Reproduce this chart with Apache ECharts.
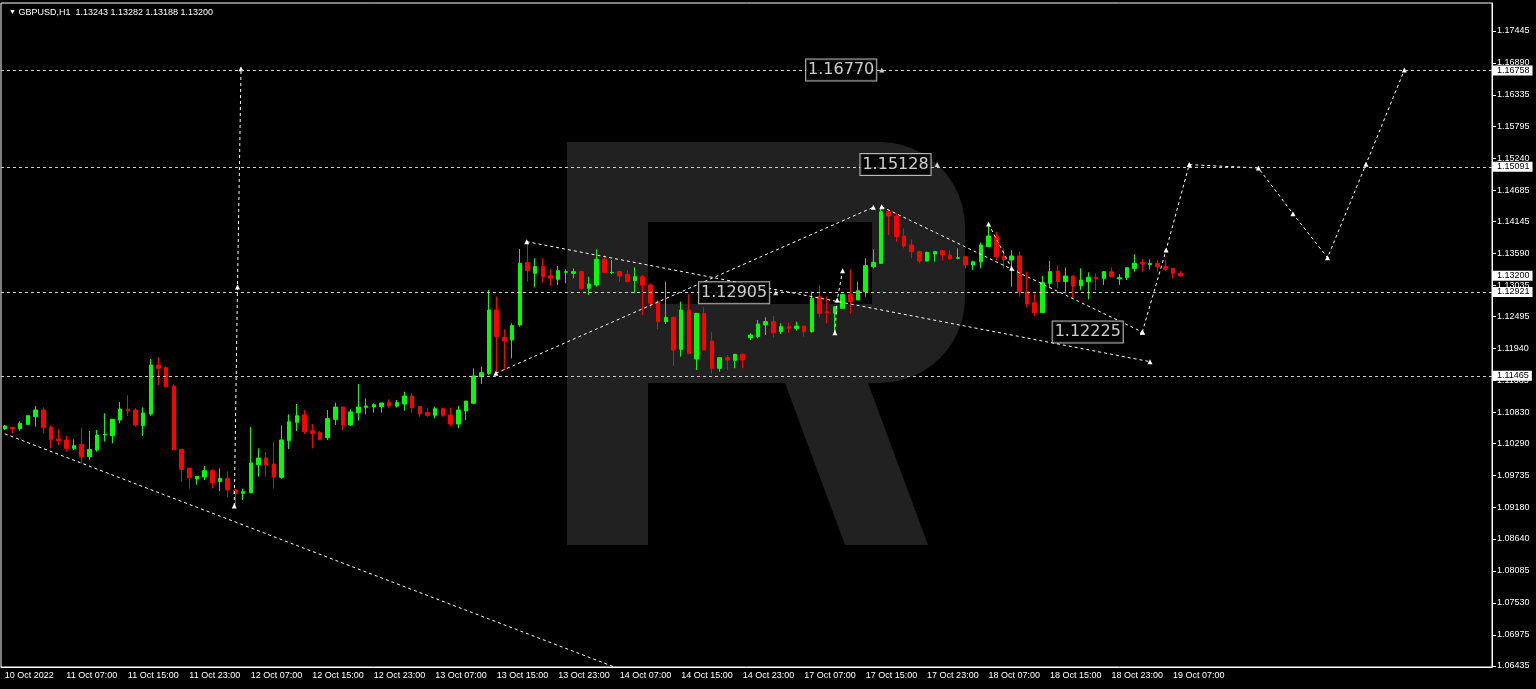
<!DOCTYPE html>
<html><head><meta charset="utf-8">
<script src="https://cdn.jsdelivr.net/npm/echarts@6/dist/echarts.min.js"></script>
<style>html,body{margin:0;padding:0;background:#000;}#c{width:1536px;height:689px;}</style>
</head><body><div id="c"></div>
<script>
const instrument = 'GBPUSD,H1';
const totalSlots = 194;
const tickLabels = ['10 Oct 2022','11 Oct 07:00','11 Oct 15:00','11 Oct 23:00','12 Oct 07:00','12 Oct 15:00','12 Oct 23:00','13 Oct 07:00','13 Oct 15:00','13 Oct 23:00','14 Oct 07:00','14 Oct 15:00','14 Oct 23:00','17 Oct 07:00','17 Oct 15:00','17 Oct 23:00','18 Oct 07:00','18 Oct 15:00','18 Oct 23:00','19 Oct 07:00'];
const opens = [1.10549,1.10572,1.10549,1.10624,1.10757,1.10873,1.10572,1.10370,1.10353,1.10208,1.10277,1.10064,1.10179,1.10439,1.10428,1.10699,1.10884,1.10873,1.10601,1.10804,
1.11653,1.11607,1.11289,1.10191,1.09861,1.09676,1.09711,1.09821,1.09630,1.09688,1.09486,1.09428,1.09440,1.09925,1.10041,1.09937,1.09705,1.10341,1.10659,1.10789,
1.10512,1.10480,1.10393,1.10711,1.10925,1.10613,1.10827,1.10919,1.10925,1.10931,1.11000,1.10942,1.10977,1.11116,1.10931,1.10827,1.10780,1.10896,1.10786,1.10630,
1.10856,1.10989,1.11451,1.11509,1.12607,1.12133,1.12087,1.12347,1.13428,1.13243,1.13359,1.13202,1.13139,1.13260,1.13243,1.13272,1.12983,1.13041,1.13486,1.13254,
1.13272,1.13225,1.13116,1.13185,1.13041,1.12752,1.12405,1.12480,1.11925,1.12607,1.11757,1.12549,1.12070,1.11596,1.11781,1.11735,1.11840,1.12127,1.12145,1.12347,
1.12405,1.12231,1.12318,1.12289,1.12330,1.12231,1.12838,1.12578,1.12549,1.12636,1.12879,1.12781,1.12925,1.13358,1.13416,1.14312,1.14237,1.13890,1.13734,1.13619,
1.13457,1.13578,1.13636,1.13561,1.13503,1.13532,1.13387,1.13445,1.13705,1.13879,1.13544,1.13474,1.13544,1.12925,1.12734,1.12561,1.13070,1.13283,1.13099,1.13197,
1.13029,1.13099,1.13174,1.13156,1.13272,1.13145,1.13168,1.13330,1.13428,1.13393,1.13416,1.13358,1.13330,1.13243];
const highs = [1.10613,1.10580,1.10676,1.10780,1.10942,1.10919,1.10607,1.10538,1.10422,1.10364,1.10566,1.10509,1.10526,1.10815,1.10711,1.11012,1.11127,1.10907,1.10919,1.11757,
1.11786,1.11636,1.11318,1.10197,1.09879,1.09723,1.09902,1.09844,1.09861,1.09809,1.09509,1.09509,1.10578,1.10208,1.10145,1.10324,1.10607,1.10798,1.10977,1.10873,
1.10628,1.10509,1.10873,1.11000,1.10925,1.10885,1.11324,1.11075,1.10989,1.10994,1.11058,1.11046,1.11191,1.11162,1.10942,1.10913,1.10931,1.10913,1.10913,1.10942,
1.11029,1.11596,1.11624,1.12954,1.12838,1.12272,1.12376,1.13665,1.13792,1.13503,1.13503,1.13312,1.13370,1.13312,1.13330,1.13289,1.13185,1.13659,1.13561,1.13474,
1.13272,1.13301,1.13347,1.13214,1.13070,1.12781,1.13098,1.12480,1.12752,1.12879,1.12549,1.12653,1.12231,1.11781,1.11827,1.11844,1.11856,1.12203,1.12434,1.12480,
1.12503,1.12376,1.12388,1.12405,1.12330,1.12925,1.13041,1.12838,1.12665,1.12879,1.13312,1.13098,1.13503,1.13659,1.14399,1.14341,1.14283,1.14023,1.13832,1.13619,
1.13619,1.13636,1.13648,1.13648,1.13676,1.13544,1.13462,1.13775,1.14098,1.13966,1.13676,1.13648,1.13619,1.13272,1.12896,1.13197,1.13457,1.13376,1.13341,1.13197,
1.13330,1.13260,1.13243,1.13283,1.13341,1.13231,1.13341,1.13573,1.13486,1.13486,1.13474,1.13474,1.13330,1.13282];
const lows = [1.10526,1.10468,1.10514,1.10613,1.10584,1.10468,1.10208,1.10266,1.10150,1.10179,1.09948,1.10006,1.10150,1.10324,1.10295,1.10642,1.10769,1.10584,1.10422,1.10775,
1.11307,1.11260,1.10179,1.09630,1.09509,1.09578,1.09659,1.09515,1.09468,1.09358,1.09208,1.09312,1.09428,1.09717,1.09717,1.09509,1.09682,1.10197,1.10509,1.10457,
1.10208,1.10353,1.10353,1.10613,1.10526,1.10596,1.10688,1.10798,1.10827,1.10827,1.10913,1.10913,1.10861,1.10827,1.10757,1.10757,1.10729,1.10757,1.10584,1.10555,
1.10700,1.10977,1.11324,1.11480,1.11538,1.11567,1.11769,1.12318,1.13098,1.12999,1.13081,1.13023,1.13041,1.13070,1.13156,1.12954,1.12867,1.13012,1.13243,1.13231,
1.13098,1.13098,1.12896,1.12520,1.12636,1.12272,1.12364,1.11636,1.11798,1.11856,1.11567,1.11914,1.11509,1.11538,1.11567,1.11596,1.11596,1.12087,1.12116,1.12174,
1.12133,1.12191,1.12214,1.12249,1.12145,1.12214,1.12480,1.12376,1.12231,1.12636,1.12549,1.12781,1.12838,1.13330,1.13416,1.13908,1.13792,1.13676,1.13503,1.13416,
1.13445,1.13445,1.13462,1.13474,1.13486,1.13330,1.13301,1.13330,1.13705,1.13474,1.13330,1.13012,1.12838,1.12653,1.12503,1.12561,1.12983,1.12983,1.12925,1.12792,
1.12954,1.12792,1.12954,1.13041,1.13174,1.13041,1.13127,1.13272,1.13272,1.13312,1.13272,1.13289,1.13156,1.13188];
const closes = [1.10595,1.10549,1.10642,1.10775,1.10873,1.10566,1.10364,1.10341,1.10208,1.10254,1.10064,1.10191,1.10439,1.10451,1.10711,1.10890,1.10861,1.10613,1.10821,1.11653,
1.11596,1.11278,1.10185,1.09844,1.09699,1.09723,1.09821,1.09613,1.09688,1.09486,1.09428,1.09457,1.09954,1.10041,1.09919,1.09711,1.10353,1.10670,1.10775,1.10497,
1.10468,1.10365,1.10723,1.10925,1.10613,1.10838,1.10925,1.10942,1.10965,1.10994,1.10942,1.11000,1.11116,1.10913,1.10804,1.10780,1.10896,1.10780,1.10630,1.10873,
1.11029,1.11463,1.11520,1.12607,1.12145,1.12069,1.12336,1.13416,1.13289,1.13359,1.13185,1.13156,1.13289,1.13272,1.13272,1.12983,1.13058,1.13486,1.13260,1.13260,
1.13197,1.13098,1.13185,1.13041,1.12723,1.12405,1.12480,1.11914,1.12607,1.11856,1.12549,1.11914,1.11596,1.11781,1.11740,1.11840,1.11740,1.12173,1.12364,1.12405,
1.12214,1.12318,1.12289,1.12330,1.12231,1.12809,1.12549,1.12561,1.12665,1.12879,1.12752,1.12942,1.13376,1.13434,1.14312,1.14237,1.13879,1.13717,1.13619,1.13457,
1.13607,1.13619,1.13561,1.13491,1.13515,1.13387,1.13445,1.13734,1.13890,1.13532,1.13486,1.13544,1.12925,1.12711,1.12561,1.13081,1.13272,1.13099,1.13197,1.13023,
1.13127,1.13174,1.13151,1.13272,1.13185,1.13168,1.13341,1.13416,1.13405,1.13416,1.13358,1.13312,1.13243,1.13200];
const yTickValues = [1.17445,1.16890,1.16335,1.15795,1.15240,1.14685,1.14145,1.13590,1.13035,1.12495,1.11940,1.11385,1.10830,1.10290,1.09735,1.09180,1.08640,1.08085,1.07530,1.06975,1.06435];
const levelPrices = [1.16758,1.15091,1.12921,1.11465];
// analysis lines: bar positions and prices
const diagIdx = [0, 80];            const diagPrice = [1.10460, 1.06382];
const spikeIdx = [29.85, 30.27, 30.73]; const spikePrice = [1.09208, 1.13006, 1.16790];
const lineAIdx = [67.9, 149.0];     const lineAPrice = [1.13792, 1.11711];
const lineBIdx = [63.9, 113.0];     const lineBPrice = [1.11510, 1.14388];
const lineCIdx = [114.1, 148.0];    const lineCPrice = [1.14398, 1.12225];
const lineDIdx = [128.0, 131.0];    const lineDPrice = [1.14098, 1.13330];
const lineEIdx = [108.0, 108.3, 109.0]; const lineEPrice = [1.12214, 1.12780, 1.13289];
const forecastIdx = [148.0, 151.1, 154.1, 163.1, 167.6, 172.1, 177.1, 182.1];
const forecastPrice = [1.12225, 1.13648, 1.15128, 1.15070, 1.14277, 1.13514, 1.15133, 1.16770];
const noteIdx = [114.1, 121.3, 100.3, 148.0];
const notePrice = [1.16770, 1.15128, 1.12905, 1.12225];
const noteGap = [3, 4, 4, 17];

const categories = [];
for (let i = 0; i < totalSlots; i++) categories.push(i % 8 === 0 && i / 8 < tickLabels.length ? tickLabels[i / 8] : '');
const candles = opens.map((o, i) => [o, closes[i], lows[i], highs[i]]);
const pairs = (a, b) => a.map((v, i) => [v, b[i]]);
const last = opens.length - 1;
const F = 'Liberation Sans';

// watermark outline (decoration)
function arcPts(cx, cy, r, a0, a1) {
  const pts = [];
  for (let k = 0; k <= 12; k++) { const a = (a0 + (a1 - a0) * k / 12) * Math.PI / 180; pts.push([cx + r * Math.cos(a), cy + r * Math.sin(a)]); }
  return pts;
}
const logoPts = [[567,142],[880,142]].concat(arcPts(880,227,85,-90,0), arcPts(880,298,85,0,90),
  [[868,383],[928,545],[845,545],[785,383],[648,383],[648,545],[567,545]]);

function dotted(name, idx, price, sym) {
  return {
    name, type: 'line', xAxisIndex: 1, yAxisIndex: 0, data: pairs(idx, price),
    symbol: sym ? 'triangle' : 'none', symbolSize: 5, showSymbol: !!sym,
    lineStyle: { color: '#fff', width: 1, type: [3, 3] }, itemStyle: { color: '#fff' },
    silent: true, animation: false, z: 4
  };
}

const chart = echarts.init(document.getElementById('c'), null, { renderer: 'canvas' });
const option = {
  backgroundColor: '#000',
  animation: false,
  title: {
    left: 4, top: 3,
    text: '{t|▼} ' + instrument + '  ' + [opens[last], highs[last], lows[last], closes[last]].map(v => v.toFixed(5)).join(' '),
    textStyle: { color: '#fff', fontSize: 9, fontFamily: F, fontWeight: 'normal', rich: { t: { fontSize: 7, color: '#fff' } } }
  },
  graphic: [
    { type: 'polygon', z: -10, silent: true, shape: { points: logoPts }, style: { fill: '#212121' } },
    { type: 'rect', z: -9, silent: true, shape: { x: 648, y: 222, width: 224, height: 82 }, style: { fill: '#000' } }
  ],
  grid: { left: 1, right: 44, top: 3, bottom: 22, show: true, borderColor: '#fff', borderWidth: 1, backgroundColor: 'transparent' },
  xAxis: [
    {
      type: 'category', data: categories, boundaryGap: true,
      axisLine: { onZero: false, lineStyle: { color: '#fff' } },
      axisTick: { interval: (i, v) => v !== '', alignWithLabel: true, length: 4, lineStyle: { color: '#fff' } },
      axisLabel: { interval: (i, v) => v !== '', align: 'left', color: '#fff', fontSize: 9, fontFamily: F, margin: 4 },
      splitLine: { show: false }
    },
    { type: 'value', min: -0.5, max: totalSlots - 0.5, show: false, axisLine: { onZero: false } }
  ],
  yAxis: {
    type: 'value', position: 'right', min: 1.064167, max: 1.179305,
    axisLine: { show: true, onZero: false, lineStyle: { color: '#fff' } },
    axisTick: { show: true, inside: false, customValues: yTickValues, length: 4, lineStyle: { color: '#fff' } },
    axisLabel: { customValues: yTickValues, formatter: v => v.toFixed(5), color: '#fff', fontSize: 9, fontFamily: F, margin: 5 },
    splitLine: { show: false }
  },
  series: [
    {
      name: 'GBPUSD', type: 'candlestick', data: candles, barWidth: 4, z: 3,
      itemStyle: { color: '#00ff00', color0: '#ff0000', borderColor: '#00ff00', borderColor0: '#ff0000', borderWidth: 1 },
      markLine: {
        silent: true, symbol: 'none', animation: false, precision: 5,
        lineStyle: { color: '#cfcfcf', width: 1, type: [3, 3] },
        label: { position: 'end', distance: 1, formatter: p => Number(p.value).toFixed(5), backgroundColor: '#fff', color: '#000', fontSize: 9, fontFamily: F, padding: [1, 3, 0, 4] },
        data: levelPrices.map(v => ({ yAxis: v })).concat([{ yAxis: closes[last], lineStyle: { color: 'rgba(0,0,0,0)' } }])
      }
    },
    dotted('diag', diagIdx, diagPrice, false),
    dotted('spike', spikeIdx, spikePrice, true),
    dotted('lineA', lineAIdx, lineAPrice, true),
    dotted('lineB', lineBIdx, lineBPrice, true),
    dotted('lineC', lineCIdx, lineCPrice, true),
    dotted('lineD', lineDIdx, lineDPrice, true),
    dotted('lineE', lineEIdx, lineEPrice, true),
    dotted('forecast', forecastIdx, forecastPrice, true),
    {
      name: 'notes', type: 'scatter', xAxisIndex: 1, yAxisIndex: 0, z: 6, silent: true,
      symbol: 'triangle', symbolSize: 5, itemStyle: { color: '#fff' },
      data: noteIdx.map((v, i) => ({
        value: [v, notePrice[i]],
        label: {
          show: true, position: 'left', distance: noteGap[i], formatter: notePrice[i].toFixed(5),
          color: '#fff', fontSize: 16, fontFamily: 'DejaVu Sans', backgroundColor: '#000',
          borderColor: '#e0e0e0', borderWidth: 1, padding: [3, 2, 2, 2]
        }
      }))
    }
  ]
};
chart.setOption(option);
</script>
</body></html>
